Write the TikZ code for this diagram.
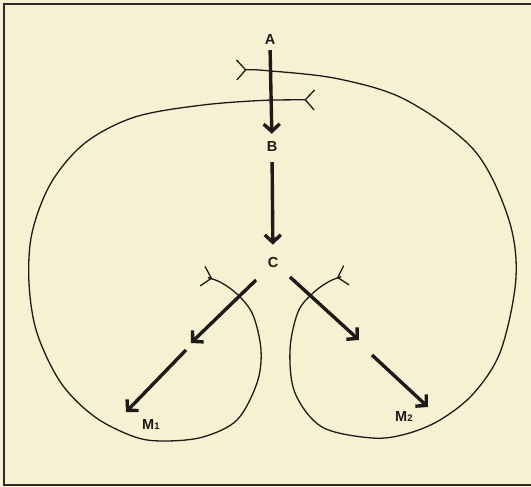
\documentclass[tikz,border=0pt]{standalone}
\usepackage{fontspec}
\newfontfamily\labfont{Liberation Sans}
\newcommand\mysubfont{\labfont\fontsize{9.5}{9.5}\selectfont}
\usetikzlibrary{arrows.meta}
\definecolor{cream}{HTML}{F6F1D2}
\definecolor{ink}{HTML}{1E1A18}
\definecolor{framecol}{HTML}{2E2B26}
\begin{document}
\begin{tikzpicture}[x=1pt,y=-1pt,
  fl/.tip={Straight Barb[reversed,length=9pt,width=20pt]},
  lab/.style={font=\labfont\bfseries\fontsize{14.5}{14.5}\selectfont, inner sep=0pt, text=ink},
  bigarrow/.style={line width=3.4pt, draw=ink, -{Straight Barb[length=7.5pt,width=16pt]}},
  loopline/.style={line width=1.3pt, draw=ink, fl-fl}]
\useasboundingbox (0,0) rectangle (531,487);
\fill[cream] (0,0) rectangle (531,487);
\draw[line width=2.5pt, framecol] (531,4) -- (4,4) -- (4,485) -- (531,485);

% labels
\node[lab] (A) at (270,40) {A};
\node[lab] (B) at (272,147) {B};
\node[lab] (C) at (273,263) {C};
\node[lab,anchor=base west] (M1) at (142,429) {M\raisebox{-0.5pt}{\mysubfont 1}};
\node[lab,anchor=base west] (M2) at (395,421) {M\raisebox{-0.5pt}{\mysubfont 2}};

% loops
\draw[loopline] plot[smooth, tension=0.55] coordinates {
  (236,70) (271,71) (339,79) (406,100) (474,150) (508,217) (516,277)
  (501,350) (474,393) (440,420) (406,434) (372,438) (322,427) (295,393)
  (290,350) (298,312) (313,293) (330,281) (347,275)};
\draw[loopline] plot[smooth, tension=0.55] coordinates {
  (315,100) (271,100) (203,105) (135,117) (85,143) (51,183) (32,233)
  (29,283) (37,333) (61,383) (95,417) (135,437) (165,441) (203,437)
  (237,420) (257,383) (261,350) (253,315) (238,295) (220,282) (202,276)};

% vertical arrows
\draw[bigarrow, shorten <=5pt, shorten >=8pt] (A.south) -- (B.north);
\draw[bigarrow, shorten <=10pt, shorten >=13pt] (B.south) -- (C.north);

% diagonal arrows
\coordinate (l1s) at (256,280); \coordinate (l1e) at (191,343);
\coordinate (l2s) at (186,350); \coordinate (l2e) at (126,412);
\coordinate (r1s) at (290,277); \coordinate (r1e) at (359,340);
\coordinate (r2s) at (372,355); \coordinate (r2e) at (428,407);
\draw[bigarrow] (l1s) -- (l1e);
\draw[bigarrow] (l2s) -- (l2e);
\draw[bigarrow] (r1s) -- (r1e);
\draw[bigarrow] (r2s) -- (r2e);
\end{tikzpicture}
\end{document}
